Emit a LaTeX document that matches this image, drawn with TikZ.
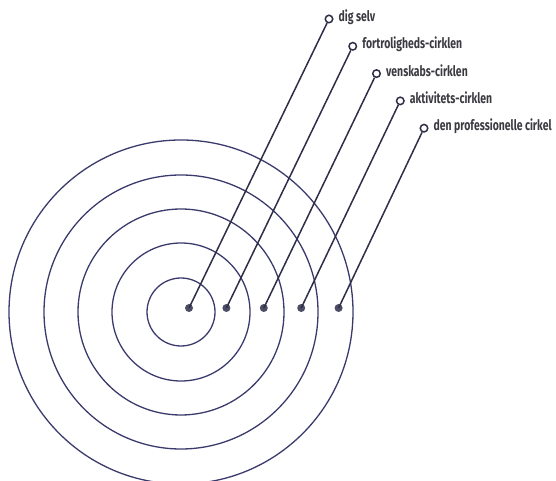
\documentclass[tikz,border=0pt]{standalone}
\usepackage{fontspec}
\setmainfont[FakeStretch=0.72]{Fira Sans}
\usepackage{tikz}
\usetikzlibrary{positioning,calc}

\definecolor{navy}{HTML}{3A3A6C}
\definecolor{ink}{HTML}{2E2E48}
\definecolor{txt}{HTML}{3A3A40}

\begin{document}
\begin{tikzpicture}[x=1pt, y=1pt,
    ring/.style={navy, line width=1.3pt},
    spoke/.style={ink, line width=1.5pt},
    dot/.style={circle, fill=ink!85!white, inner sep=0pt, minimum size=8pt},
    tip/.style={circle, draw=ink, line width=1.5pt, fill=white, inner sep=0pt, minimum size=7.5pt},
    lbl/.style={txt, font=\bfseries\fontsize{14.5}{16}\selectfont, inner sep=0pt}
  ]
  \useasboundingbox (0,0) rectangle (556,481);

  % Cirkler
  \coordinate (c) at (181,169);
  \foreach \r in {34,69,103,137,172}
    \draw[ring] (c) circle (\r pt);

  % Punkter, streger og tekster
  \foreach \i/\txt in {0/dig selv,
                       1/fortroligheds-cirklen,
                       2/venskabs-cirklen,
                       3/aktivitets-cirklen,
                       4/den professionelle cirkel} {
    \node[dot] (dot\i) at ({189+37.4*\i},173) {};
    \node[tip] (end\i) at ({329+23.75*\i},{462-27.3*\i}) {};
    \draw[spoke] (dot\i.center) -- (end\i);
    \node[lbl, anchor=base west] (lab\i) at ($(end\i.east)+(5,-2.7)$) {\txt};
  }
\end{tikzpicture}
\end{document}
